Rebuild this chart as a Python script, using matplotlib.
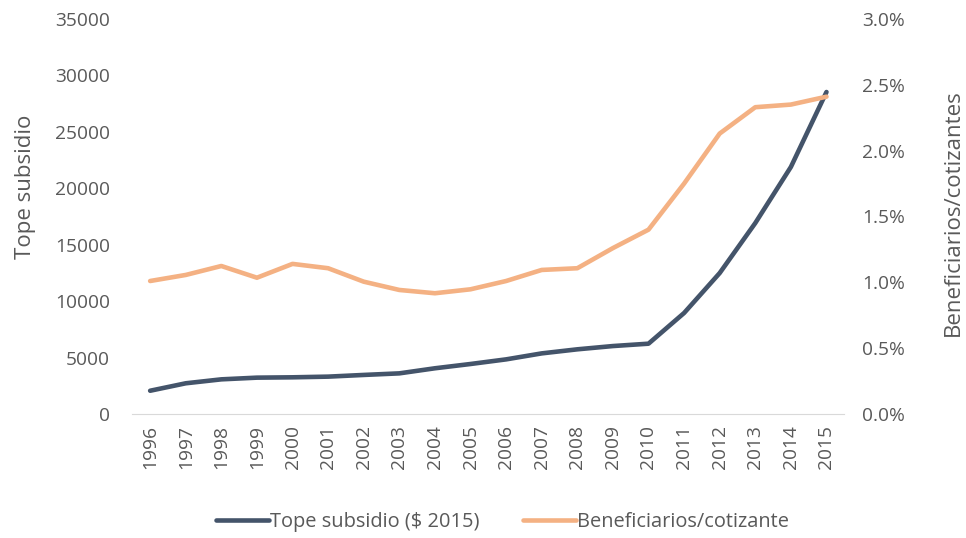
import matplotlib
matplotlib.use("Agg")
import matplotlib.pyplot as plt
from matplotlib.ticker import FuncFormatter

plt.rcParams['font.family'] = ['Open Sans', 'DejaVu Sans']

years = [str(y) for y in range(1996, 2016)]
tope_subsidio = [2060, 2720, 3070, 3220, 3250, 3310, 3460, 3600, 4050, 4430,
                 4840, 5370, 5730, 6020, 6230, 8950, 12490, 16920, 21890, 28530]
benef_cotiz = [1.01, 1.056, 1.124, 1.035, 1.14, 1.107, 1.005, 0.942, 0.917, 0.947,
               1.01, 1.094, 1.107, 1.26, 1.40, 1.75, 2.13, 2.33, 2.35, 2.41]

grey = '#595959'
dark = '#44546A'
orange = '#F4B183'

fig = plt.figure(figsize=(9.66, 5.38), dpi=100)
ax1 = fig.add_axes([0.137, 0.2305, 0.737, 0.7342])
ax2 = ax1.twinx()

x = range(len(years))
l1, = ax1.plot(x, tope_subsidio, color=dark, linewidth=3.3,
               solid_capstyle='round', label='Tope subsidio ($ 2015)', zorder=3)
l2, = ax2.plot(x, benef_cotiz, color=orange, linewidth=3.3,
               solid_capstyle='round', label='Beneficiarios/cotizante', zorder=2)

ax1.set_xlim(-0.5, len(years) - 0.5)
ax1.set_ylim(0, 35000)
ax1.set_yticks(range(0, 35001, 5000))
ax2.set_ylim(0, 3.0)
ax2.set_yticks([0, 0.5, 1.0, 1.5, 2.0, 2.5, 3.0])
ax2.yaxis.set_major_formatter(FuncFormatter(lambda v, p: f"{v:.1f}%"))

ax1.set_xticks(list(x))
ax1.set_xticklabels(years, rotation=90)

for a in (ax1, ax2):
    for s in a.spines.values():
        s.set_visible(False)
    a.tick_params(length=0, labelsize=13.8, labelcolor=grey)
ax1.spines['bottom'].set_visible(True)
ax1.spines['bottom'].set_color('#D9D9D9')
ax1.tick_params(axis='y', pad=16)
ax1.tick_params(axis='x', pad=8)
ax2.tick_params(axis='y', pad=13)

ax1.set_ylabel('Tope subsidio', fontsize=16, color=grey)
ax1.yaxis.set_label_coords(-0.135, 0.575)
ax2.set_ylabel('Beneficiarios/cotizantes', fontsize=16, color=grey, rotation=90)
ax2.yaxis.set_label_coords(1.139, 0.509)

fig.legend([l1, l2], [l1.get_label(), l2.get_label()], loc='center',
           bbox_to_anchor=(0.52, 0.03), ncol=2, frameon=False, fontsize=14.4,
           labelcolor=grey, handlelength=2.65, handletextpad=0.05, columnspacing=2.2)

fig.savefig('out.png', dpi=100)
